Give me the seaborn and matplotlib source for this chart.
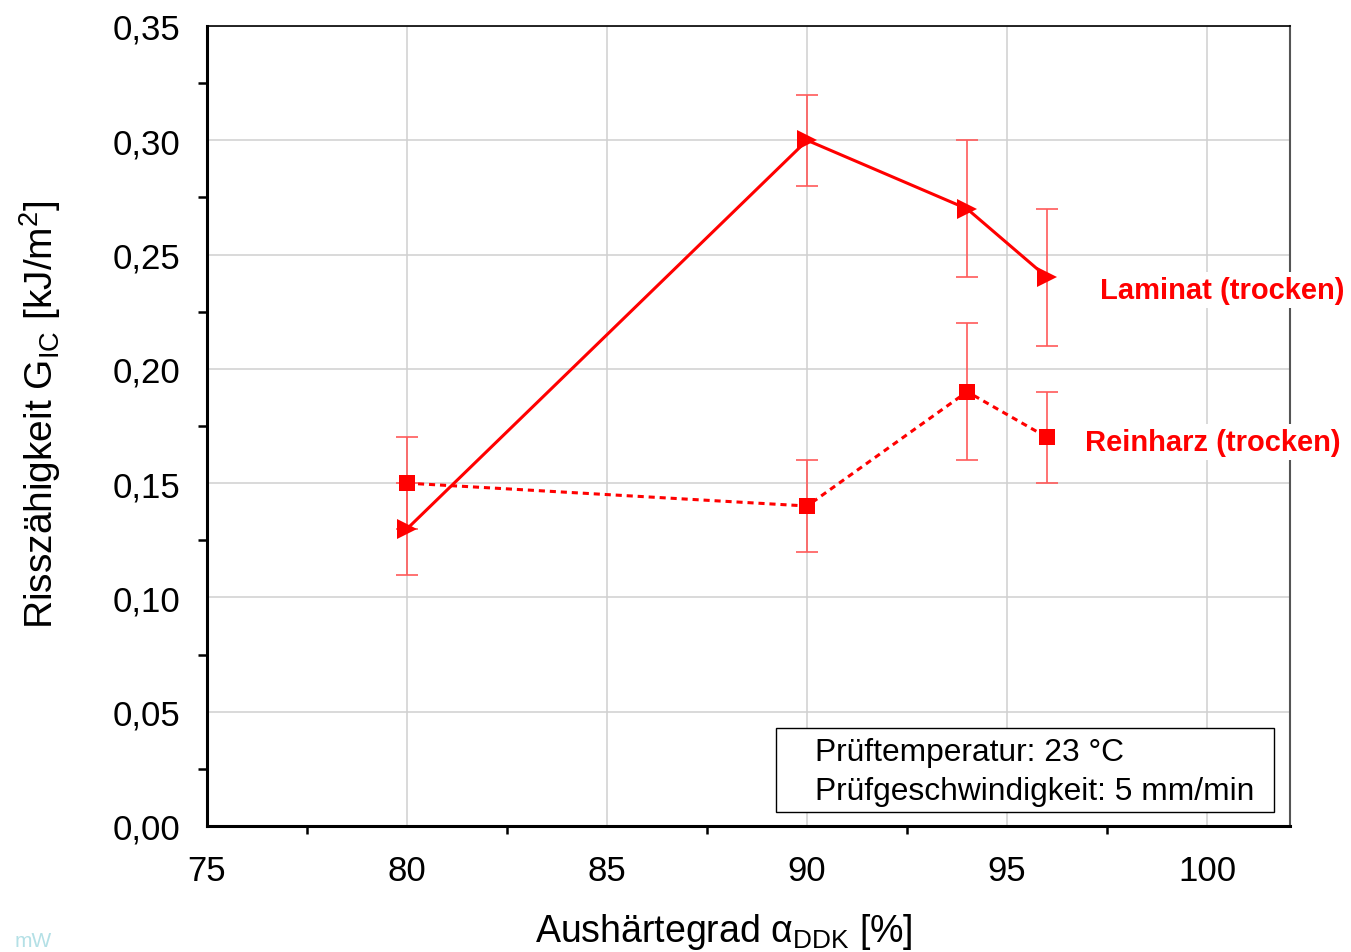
import matplotlib
matplotlib.use("Agg")
import matplotlib.pyplot as plt
import seaborn as sns
import numpy as np
import pandas as pd
from matplotlib.ticker import MultipleLocator, FuncFormatter

# ---- data ----
x_laminat = [80, 90, 94, 96]
y_laminat = [0.13, 0.30, 0.27, 0.24]
err_laminat = [0.02, 0.02, 0.03, 0.03]

x_reinharz = [80, 90, 94, 96]
y_reinharz = [0.15, 0.14, 0.19, 0.17]
err_reinharz = [0.02, 0.02, 0.03, 0.02]

label_laminat = "Laminat (trocken)"
label_reinharz = "Reinharz (trocken)"
info_lines = ["Prüftemperatur: 23 °C", "Prüfgeschwindigkeit: 5 mm/min"]

sns.set_style("white")
plt.rcParams['font.family'] = ['Liberation Sans', 'DejaVu Sans']
plt.rcParams['mathtext.fontset'] = 'custom'
plt.rcParams['mathtext.rm'] = 'Liberation Sans'
plt.rcParams['mathtext.it'] = 'Liberation Sans'
plt.rcParams['mathtext.bf'] = 'Liberation Sans:bold'
plt.rcParams['text.color'] = 'black'
plt.rcParams['axes.labelcolor'] = 'black'
plt.rcParams['xtick.color'] = 'black'
plt.rcParams['ytick.color'] = 'black'

W, H = 1351, 953
fig = plt.figure(figsize=(W / 100, H / 100), dpi=100)
ax = fig.add_axes([207 / W, 1 - 827 / H, (1290 - 207) / W, (827 - 27) / H])

red = "#ff0000"
err_red = "#ff5a5a"

df_l = pd.DataFrame({"x": x_laminat, "y": y_laminat})
df_r = pd.DataFrame({"x": x_reinharz, "y": y_reinharz})

ax.errorbar(x_laminat, y_laminat, yerr=err_laminat, fmt="none", ecolor=err_red,
            elinewidth=1.2, capsize=8, capthick=1.2, zorder=2)
ax.errorbar(x_reinharz, y_reinharz, yerr=err_reinharz, fmt="none", ecolor=err_red,
            elinewidth=1.2, capsize=8, capthick=1.2, zorder=2)

sns.lineplot(data=df_l, x="x", y="y", ax=ax, color=red, linewidth=2.2,
             marker=">", markersize=15, markeredgewidth=0, zorder=3,
             estimator=None, sort=False)
sns.lineplot(data=df_r, x="x", y="y", ax=ax, color=red, linewidth=2.2,
             linestyle=(0, (2, 1.6)), marker="s", markersize=11,
             markeredgewidth=0, zorder=3, estimator=None, sort=False)

ax.set_xlim(75, 102.07)
ax.set_ylim(0, 0.35)
ax.xaxis.set_major_locator(MultipleLocator(5))
ax.xaxis.set_minor_locator(MultipleLocator(2.5))
ax.yaxis.set_major_locator(MultipleLocator(0.05))
ax.yaxis.set_minor_locator(MultipleLocator(0.025))
ax.yaxis.set_major_formatter(FuncFormatter(lambda v, p: f"{v:.2f}".replace(".", ",")))
ax.xaxis.set_major_formatter(FuncFormatter(lambda v, p: f"{v:.0f}"))

ax.grid(True, which="major", color="#d0d0d0", linewidth=1.1, zorder=0)
ax.set_axisbelow(True)

for side in ["left", "bottom"]:
    ax.spines[side].set_linewidth(2.2)
    ax.spines[side].set_color("black")
ax.spines["top"].set_linewidth(1.2)
ax.spines["top"].set_color("black")
ax.spines["right"].set_linewidth(1.5)
ax.spines["right"].set_color("#555555")
for s in ax.spines.values():
    s.set_visible(True)

ax.tick_params(axis="y", which="major", direction="out", length=12, width=2.2,
               labelsize=25, pad=7, color="black", labelcolor="black")
ax.tick_params(axis="y", which="minor", direction="out", length=6.5, width=1.8, left=True)
ax.tick_params(axis="x", which="major", direction="out", length=11.5, width=2.2,
               labelsize=25, pad=9, color="black", labelcolor="black")
ax.tick_params(axis="x", which="minor", direction="out", length=6, width=1.8, bottom=True)

ax.set_xlabel(r"Aushärtegrad $\alpha_{\mathrm{DDK}}$ [%]", fontsize=27, va="center")
ax.set_ylabel(r"Risszähigkeit G$_{\mathrm{IC}}$ [kJ/m$^2$]", fontsize=28, va="center")
ax.xaxis.set_label_coords((723.5 - 207) / 1083, -(932 - 827) / 800)
ax.yaxis.set_label_coords((40 - 207) / 1083, (827 - 415) / 800)

# series labels
ax.text(1100 / W, 1 - 291 / H, label_laminat, transform=fig.transFigure,
        color=red, fontsize=21, fontweight="bold", ha="left", va="center",
        bbox=dict(facecolor="white", edgecolor="none", pad=3), zorder=5)
ax.text(1085 / W, 1 - 443 / H, label_reinharz, transform=fig.transFigure,
        color=red, fontsize=21, fontweight="bold", ha="left", va="center",
        bbox=dict(facecolor="white", edgecolor="none", pad=3), zorder=5)

# info box
rect = plt.Rectangle((776 / W, 1 - 813 / H), (1274 - 776) / W, (813 - 729) / H,
                     transform=fig.transFigure, facecolor="white",
                     edgecolor="black", linewidth=1.0, zorder=4)
fig.add_artist(rect)
fig.text(815 / W, 1 - 753 / H, info_lines[0], fontsize=22.9, ha="left", va="center", zorder=5)
fig.text(815 / W, 1 - 792 / H, info_lines[1], fontsize=22.9, ha="left", va="center", zorder=5)

# watermark
fig.text(15 / W, 2 / H, "mW", fontsize=15, color="#b4e0e6", ha="left", va="bottom")

fig.savefig("out.png", dpi=100)
